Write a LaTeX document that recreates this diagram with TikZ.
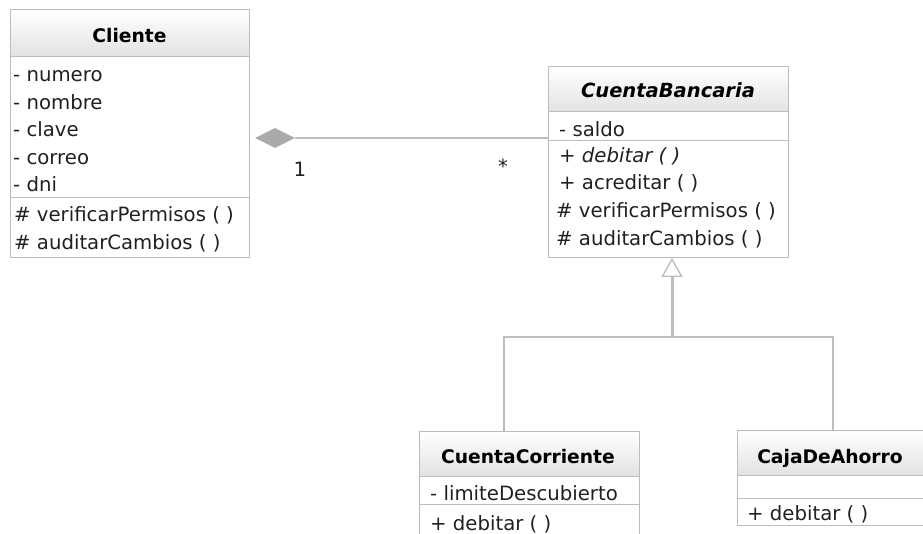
\documentclass[tikz,border=0pt]{standalone}
\usepackage{fontspec}
\setmainfont{DejaVu Sans}
\usetikzlibrary{arrows.meta,shapes.geometric}
\definecolor{umlline}{HTML}{BDBDBD}
\definecolor{umlhead}{HTML}{E2E2E2}
\definecolor{umldiamond}{HTML}{AAAAAA}
\definecolor{umltext}{HTML}{202020}
\tikzset{
  classbox/.style={draw=umlline,line width=1pt,anchor=north west,inner sep=0pt,outer sep=0pt},
  sep/.style={draw=umlline,line width=1pt},
  classname/.style={anchor=base,inner sep=0pt,font=\fontsize{18.7}{20}\selectfont\bfseries},
  member/.style={anchor=base west,inner sep=0pt,text=umltext,font=\fontsize{19.7}{22}\selectfont},
  mult/.style={anchor=base,inner sep=0pt,text=umltext,font=\fontsize{19.7}{22}\selectfont},
  assoc/.style={draw=umlline,line width=1.6pt},
  genline/.style={draw=umlline,line width=1.3pt},
  genarrow/.style={draw=umlline,line width=3pt,-{Triangle[open,length=19pt,width=21pt,line width=1.3pt]}}
}
\begin{document}
\begin{tikzpicture}[x=1pt,y=-1pt]
\useasboundingbox (0,0) rectangle (923,534);
\clip (0,0) rectangle (923,534);

% Cliente
\shade[top color=white,bottom color=umlhead] (10,10) rectangle (249,57);
\node[classbox,minimum width=239,minimum height=248] (cliente) at (10,10) {};
\draw[sep] (10,57) -- (249,57);
\draw[sep] (10,198) -- (249,198);
\node[classname] (clienteName) at (129.5,43) {Cliente};
\node[member] (cliNumero)  at (13,82)  {- numero};
\node[member] (cliNombre)  at (13,110) {- nombre};
\node[member] (cliClave)   at (13,137) {- clave};
\node[member] (cliCorreo)  at (13,165) {- correo};
\node[member] (cliDni)     at (13,192) {- dni};
\node[member] (cliVerif)   at (14,222) {\# verificarPermisos ( )};
\node[member] (cliAudit)   at (14,250) {\# auditarCambios ( )};

% CuentaBancaria
\shade[top color=white,bottom color=umlhead] (548,67) rectangle (788,112);
\node[classbox,minimum width=240,minimum height=191] (cuenta) at (548,67) {};
\draw[sep] (548,112) -- (788,112);
\draw[sep] (548,141) -- (788,141);
\node[classname,font=\fontsize{19.5}{21}\selectfont\bfseries\itshape] (cuentaName) at (668,98) {CuentaBancaria};
\node[member] (cbSaldo)    at (559,137) {- saldo};
\node[member] (cbDebitar)  at (559,163) {\itshape + debitar ( )};
\node[member] (cbAcred)    at (559,190) {+ acreditar ( )};
\node[member] (cbVerif)    at (556,218) {\# verificarPermisos ( )};
\node[member] (cbAudit)    at (556,246) {\# auditarCambios ( )};

% CuentaCorriente
\shade[top color=white,bottom color=umlhead] (419,431) rectangle (639,476);
\node[classbox,minimum width=220,minimum height=114] (corriente) at (419,431) {};
\draw[sep] (419,476) -- (639,476);
\draw[sep] (419,504) -- (639,504);
\node[classname] (corrienteName) at (528,463) {CuentaCorriente};
\node[member] (ccLimite)   at (430,500) {- limiteDescubierto};
\node[member] (ccDebitar)  at (430,530) {+ debitar ( )};

% CajaDeAhorro
\shade[top color=white,bottom color=umlhead] (737,430) rectangle (937,475);
\node[classbox,minimum width=200,minimum height=95] (caja) at (737,430) {};
\draw[sep] (737,475) -- (937,475);
\draw[sep] (737,498) -- (937,498);
\node[classname] (cajaName) at (830,463) {CajaDeAhorro};
\node[member] (caDebitar)  at (747,520) {+ debitar ( )};

% composicion
\node[diamond,fill=umldiamond,minimum width=40,minimum height=20,inner sep=0pt] (comp) at (275,138) {};
\draw[assoc] (comp.east) -- (cuenta.west |- comp.east);
\node[mult] (multUno)  at (300,177) {1};
\node[mult] (multMuchos) at (503,174) {*};

% herencia
\coordinate (genJoin) at (672,337);
\draw[genarrow] (genJoin) -- (genJoin |- cuenta.south);
\draw[genline] ([xshift=85pt]corriente.north west) |- (genJoin) -| ([xshift=96pt]caja.north west);
\end{tikzpicture}
\end{document}
